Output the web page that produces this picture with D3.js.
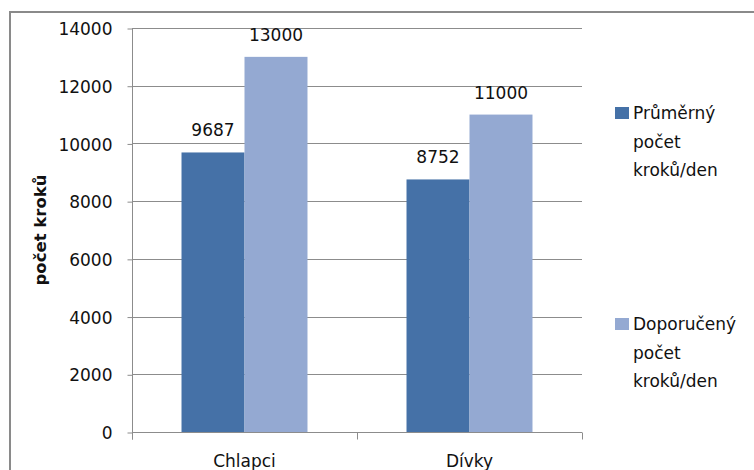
<!DOCTYPE html>
<html>
<head>
<meta charset="utf-8">
<script src="https://cdn.jsdelivr.net/npm/d3@7"></script>
<style>
  html, body { margin: 0; padding: 0; background: #fff; }
  svg { display: block; }
  text { font-family: "DejaVu Sans", sans-serif; fill: #111; }
</style>
</head>
<body>
<svg id="chart" width="754" height="470"></svg>
<script>
// Steps per day: measured average vs. recommended, boys and girls
const categories = ["Chlapci", "Dívky"];
const seriesNames = ["Průměrný počet kroků/den", "Doporučený počet kroků/den"];
const legendLines = [["Průměrný", "počet", "kroků/den"], ["Doporučený", "počet", "kroků/den"]];
const averageSteps = [9687, 8752];
const recommendedSteps = [13000, 11000];
const yTicks = [0, 2000, 4000, 6000, 8000, 10000, 12000, 14000];
const yTitle = "počet kroků";
const colors = ["#4571a7", "#94a9d2"];

const values = [averageSteps, recommendedSteps];

const svg = d3.select("#chart");
const W = 754, H = 470;
const plot = { left: 132, right: 582, top: 28, bottom: 432 };
const gridColor = "#8c8c8c";

// outer frame (top and left edges)
svg.append("path")
  .attr("d", `M10,${H} L10,12 L${W},12`)
  .attr("fill", "none")
  .attr("stroke", "#8a8a8a")
  .attr("stroke-width", 2);

const y = d3.scaleLinear().domain([0, 14000]).range([plot.bottom, plot.top]);
const x0 = d3.scaleBand().domain(categories).range([plot.left, plot.right]).padding(0);
const x1 = d3.scaleBand().domain(d3.range(seriesNames.length))
  .range([0, x0.bandwidth()]).paddingInner(0).paddingOuter(0.786);

// horizontal gridlines
svg.append("g")
  .selectAll("line")
  .data(yTicks.filter(t => t > 0))
  .join("line")
  .attr("x1", plot.left).attr("x2", plot.right)
  .attr("y1", d => Math.round(y(d)) + 0.5).attr("y2", d => Math.round(y(d)) + 0.5)
  .attr("stroke", gridColor).attr("stroke-width", 1);

// y axis
const yAxis = svg.append("g")
  .attr("transform", `translate(${plot.left + 0.5},0.5)`)
  .call(d3.axisLeft(y).tickValues(yTicks).tickSize(5).tickPadding(15).tickFormat(d3.format("d")));
yAxis.select(".domain").attr("stroke", gridColor).attr("d", `M0,${plot.top - 0.5}V${plot.bottom + 7}`);
yAxis.selectAll(".tick line").attr("stroke", gridColor);
yAxis.selectAll(".tick text")
  .attr("font-size", 17).attr("font-family", "DejaVu Sans, sans-serif").attr("fill", "#111")
  .attr("dy", "0.36em");

// bars
const groups = svg.append("g")
  .selectAll("g")
  .data(categories)
  .join("g")
  .attr("transform", d => `translate(${x0(d)},0)`);

groups.selectAll("rect")
  .data((c, i) => values.map((s, k) => ({ k, v: s[i] })))
  .join("rect")
  .attr("x", d => x1(d.k))
  .attr("width", x1.bandwidth())
  .attr("y", d => y(d.v))
  .attr("height", d => y(0) - y(d.v))
  .attr("fill", d => colors[d.k]);

// value labels
groups.selectAll("text.val")
  .data((c, i) => values.map((s, k) => ({ k, v: s[i] })))
  .join("text")
  .attr("class", "val")
  .attr("x", d => x1(d.k) + x1.bandwidth() / 2)
  .attr("y", d => y(d.v) - 16)
  .attr("text-anchor", "middle")
  .attr("font-size", 17)
  .text(d => d.v);

// x axis
const xAxis = svg.append("g")
  .attr("transform", `translate(0,${plot.bottom + 0.5})`);
xAxis.append("line")
  .attr("x1", plot.left).attr("x2", plot.right)
  .attr("stroke", gridColor);
xAxis.selectAll("line.tk")
  .data([plot.left, x0(categories[1]), plot.right])
  .join("line")
  .attr("class", "tk")
  .attr("x1", d => Math.round(d) + 0.5).attr("x2", d => Math.round(d) + 0.5)
  .attr("y1", 0).attr("y2", 7)
  .attr("stroke", gridColor);
xAxis.selectAll("text")
  .data(categories)
  .join("text")
  .attr("x", d => x0(d) + x0.bandwidth() / 2)
  .attr("y", 34.5)
  .attr("text-anchor", "middle")
  .attr("font-size", 17)
  .text(d => d);

// y axis title
svg.append("text")
  .attr("transform", `translate(46,${(plot.top + plot.bottom) / 2}) rotate(-90)`)
  .attr("text-anchor", "middle")
  .attr("font-size", 16.5)
  .attr("font-weight", "bold")
  .text(yTitle);

// legend
const legendBase = [119, 330];
const legend = svg.append("g")
  .selectAll("g")
  .data(seriesNames)
  .join("g")
  .attr("transform", (d, i) => `translate(615,${legendBase[i]})`);
legend.append("rect")
  .attr("x", 0).attr("y", -12)
  .attr("width", 14).attr("height", 12)
  .attr("fill", (d, i) => colors[i]);
legend.append("text")
  .attr("x", 18)
  .attr("font-size", 17)
  .selectAll("tspan")
  .data((d, i) => legendLines[i])
  .join("tspan")
  .attr("x", 18)
  .attr("dy", (d, j) => j === 0 ? 0 : 28.5)
  .text(d => d);
</script>
</body>
</html>
